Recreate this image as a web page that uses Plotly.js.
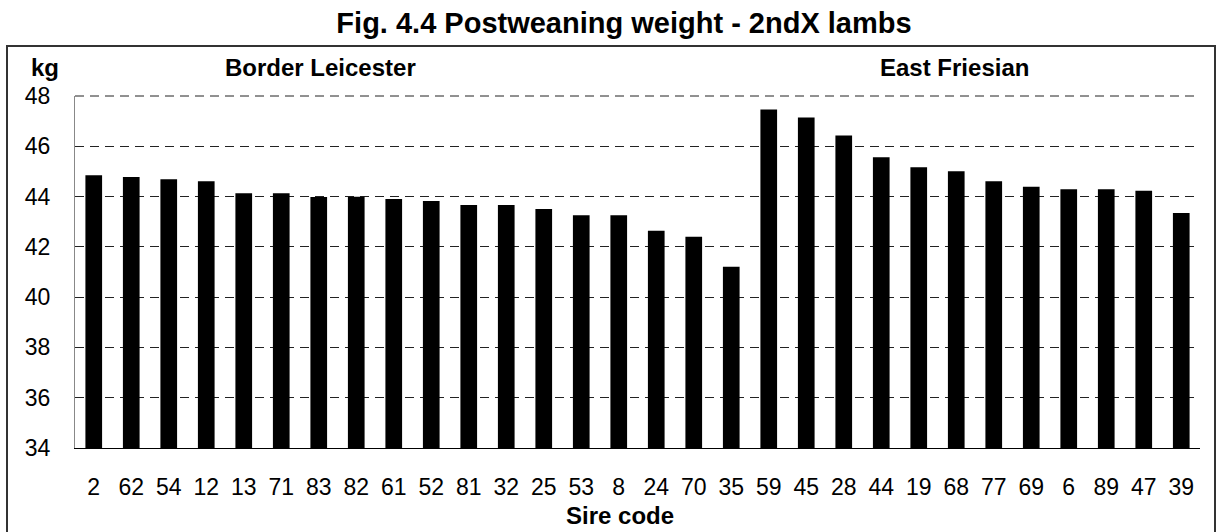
<!DOCTYPE html>
<html>
<head>
<meta charset="utf-8">
<script src="https://cdn.plot.ly/plotly-3.0.1.min.js"></script>
<style>
  html, body { margin: 0; padding: 0; background: #fff; }
  #chart { width: 1220px; height: 532px; }
</style>
</head>
<body>
<div id="chart"></div>
<script>
// Sire codes (x categories), in the order shown
const sireCodes = ['2','62','54','12','13','71','83','82','61','52','81','32','25','53','8','24','70','35',
                   '59','45','28','44','19','68','77','69','6','89','47','39'];
// Postweaning weight (kg)
const weightKg = [44.85,44.78,44.69,44.61,44.13,44.13,43.98,43.99,43.90,43.82,43.66,43.66,43.51,43.26,43.26,42.64,42.40,41.21,
                  47.46,47.14,46.43,45.56,45.17,45.01,44.61,44.39,44.29,44.29,44.23,43.35];
const yTicks = [34,36,38,40,42,44,46,48];
const titleText = 'Fig. 4.4 Postweaning weight - 2ndX lambs';
const groupLabels = ['Border Leicester', 'East Friesian'];
const yUnit = 'kg';
const xTitle = 'Sire code';

const W = 1220, H = 532;
const ML = 75, MR = 20, MT = 96, MB = 84;
const PW = W - ML - MR, PH = H - MT - MB;
const px2x = px => (px - ML) / PW;
const py2y = py => (H - MB - py) / PH;

const FONT = 'Liberation Sans, Arial, sans-serif';

const trace = {
  type: 'bar',
  x: sireCodes,
  y: weightKg,
  marker: { color: '#000000', line: { width: 0 } },
  hoverinfo: 'x+y'
};

const layout = {
  width: W, height: H,
  margin: { l: ML, r: MR, t: MT, b: MB, pad: 0 },
  paper_bgcolor: '#ffffff',
  plot_bgcolor: '#ffffff',
  showlegend: false,
  bargap: 0.555,
  font: { family: FONT, size: 23, color: '#000' },
  title: {
    text: '<b>' + titleText + '</b>',
    font: { family: FONT, size: 29, color: '#000' },
    xref: 'container', yref: 'container',
    x: 624 / W, y: 1 - 23 / H,
    xanchor: 'center', yanchor: 'middle'
  },
  xaxis: {
    type: 'category',
    categoryorder: 'array',
    categoryarray: sireCodes,
    showgrid: false,
    showline: true, linecolor: '#000', linewidth: 1,
    ticks: 'outside', ticklen: 18, tickcolor: 'rgba(0,0,0,0)',
    tickfont: { family: FONT, size: 23, color: '#000' },
    tickangle: 0,
    zeroline: false,
    fixedrange: true
  },
  yaxis: {
    range: [34, 48],
    tickvals: yTicks,
    ticktext: yTicks.map(String),
    showgrid: true, gridcolor: '#222', gridwidth: 1, griddash: '9px,6px',
    showline: true, linecolor: '#888', linewidth: 1,
    ticks: 'outside', ticklen: 19, tickcolor: 'rgba(0,0,0,0)',
    tickfont: { family: FONT, size: 23, color: '#000' },
    zeroline: false,
    fixedrange: true
  },
  annotations: [
    { text: '<b>' + yUnit + '</b>', xref: 'paper', yref: 'paper', x: px2x(45), y: py2y(68),
      xanchor: 'center', yanchor: 'middle', showarrow: false, font: { family: FONT, size: 24, color: '#000' } },
    { text: '<b>' + groupLabels[0] + '</b>', xref: 'paper', yref: 'paper', x: px2x(320), y: py2y(68),
      xanchor: 'center', yanchor: 'middle', showarrow: false, font: { family: FONT, size: 24, color: '#000' } },
    { text: '<b>' + groupLabels[1] + '</b>', xref: 'paper', yref: 'paper', x: px2x(954), y: py2y(68),
      xanchor: 'center', yanchor: 'middle', showarrow: false, font: { family: FONT, size: 24, color: '#000' } },
    { text: '<b>' + xTitle + '</b>', xref: 'paper', yref: 'paper', x: px2x(620), y: py2y(515),
      xanchor: 'center', yanchor: 'middle', showarrow: false, font: { family: FONT, size: 24, color: '#000' } }
  ],
  shapes: [
    // top dashed gridline at the range edge (Plotly omits it)
    { type: 'line', xref: 'paper', yref: 'paper', x0: 0, x1: 1, y0: 1, y1: 1,
      line: { color: '#222', width: 1, dash: '9px,6px' }, layer: 'below' },
    { type: 'rect', xref: 'paper', yref: 'paper',
      x0: px2x(7), x1: px2x(1215), y0: py2y(545), y1: py2y(46),
      line: { color: '#333', width: 2 }, fillcolor: 'rgba(0,0,0,0)', layer: 'above' }
  ]
};

Plotly.newPlot('chart', [trace], layout, { displayModeBar: false, staticPlot: true });
</script>
</body>
</html>
